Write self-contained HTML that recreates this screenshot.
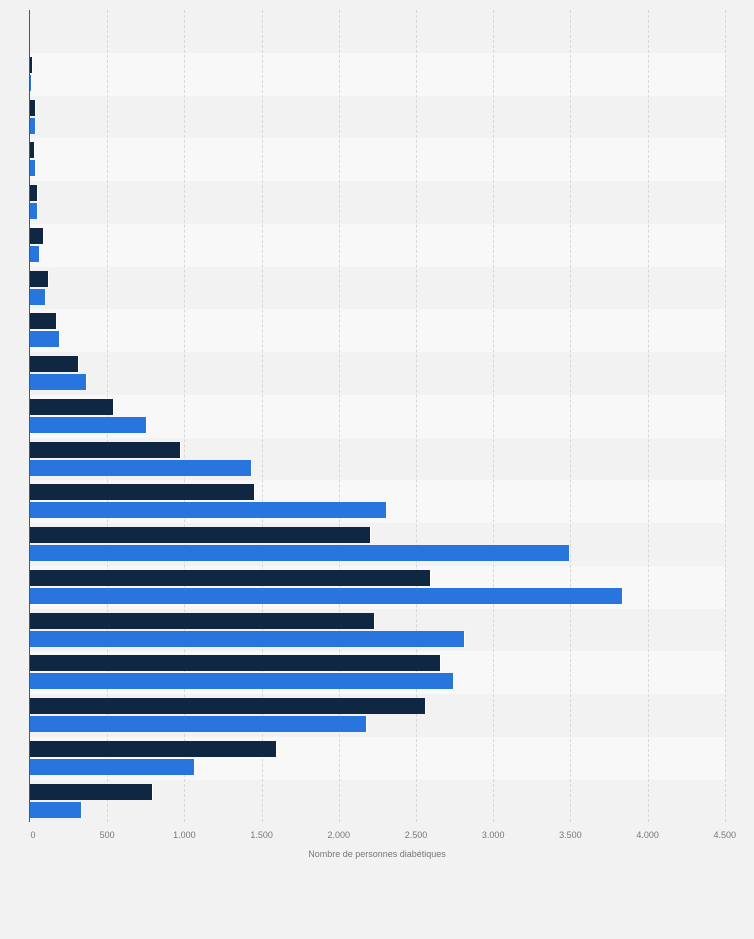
<!DOCTYPE html>
<html><head><meta charset="utf-8"><style>
body{margin:0;width:754px;height:939px;background:#f2f2f2;position:relative;overflow:hidden;font-family:"Liberation Sans",sans-serif}
div{position:absolute}
.r{left:30px;width:695px;height:43px}
.g{top:10px;height:812px;width:0;border-left:1px dashed #d8d8d8}
.d{left:30px;height:16px;background:#0f2740;border-right:1px solid #fff}
.b{left:30px;height:16px;background:#2876dd;border-right:1px solid #fff}
.t{top:830px;font-size:9px;color:#777;width:40px;text-align:center}
</style></head><body>
<div id="c"></div>
<script>
(function(){
var dk=[0,32,35,34,37,43,48,56,78,113,180,254,370,430,374,440,425,276,152];
var bl=[0,31,35,35,37,39,45,59,86,146,251,386,569,622,464,453,366,194,81];
var h='',yy,x,i,k;
for(i=0;i<19;i++){yy=10+i*42.75;
h+='<div class="r" style="top:'+yy+'px;background:'+(i%2?'#f8f8f8':'#f2f2f2')+'"></div>';}
for(k=1;k<=9;k++){x=30+k*77.2;h+='<div class="g" style="left:'+x+'px"></div>';}
for(i=1;i<19;i++){yy=10+i*42.75;
h+='<div class="d" style="top:'+(yy+4)+'px;width:'+(dk[i]-30)+'px"></div>';
h+='<div class="b" style="top:'+(yy+22)+'px;width:'+(bl[i]-30)+'px"></div>';}
var lab=['0','500','1.000','1.500','2.000','2.500','3.000','3.500','4.000','4.500'];
for(k=0;k<10;k++){x=30+k*77.2;h+='<div class="t" style="left:'+(x-20+(k==0?3:0))+'px">'+lab[k]+'</div>';}
h+='<div style="left:29px;top:10px;width:1px;height:812px;background:#555"></div>';
h+='<div style="left:200px;width:354px;top:849px;text-align:center;font-size:9px;color:#777">Nombre de personnes diabétiques</div>';
document.getElementById('c').innerHTML=h;
})();
</script>
</body></html>
